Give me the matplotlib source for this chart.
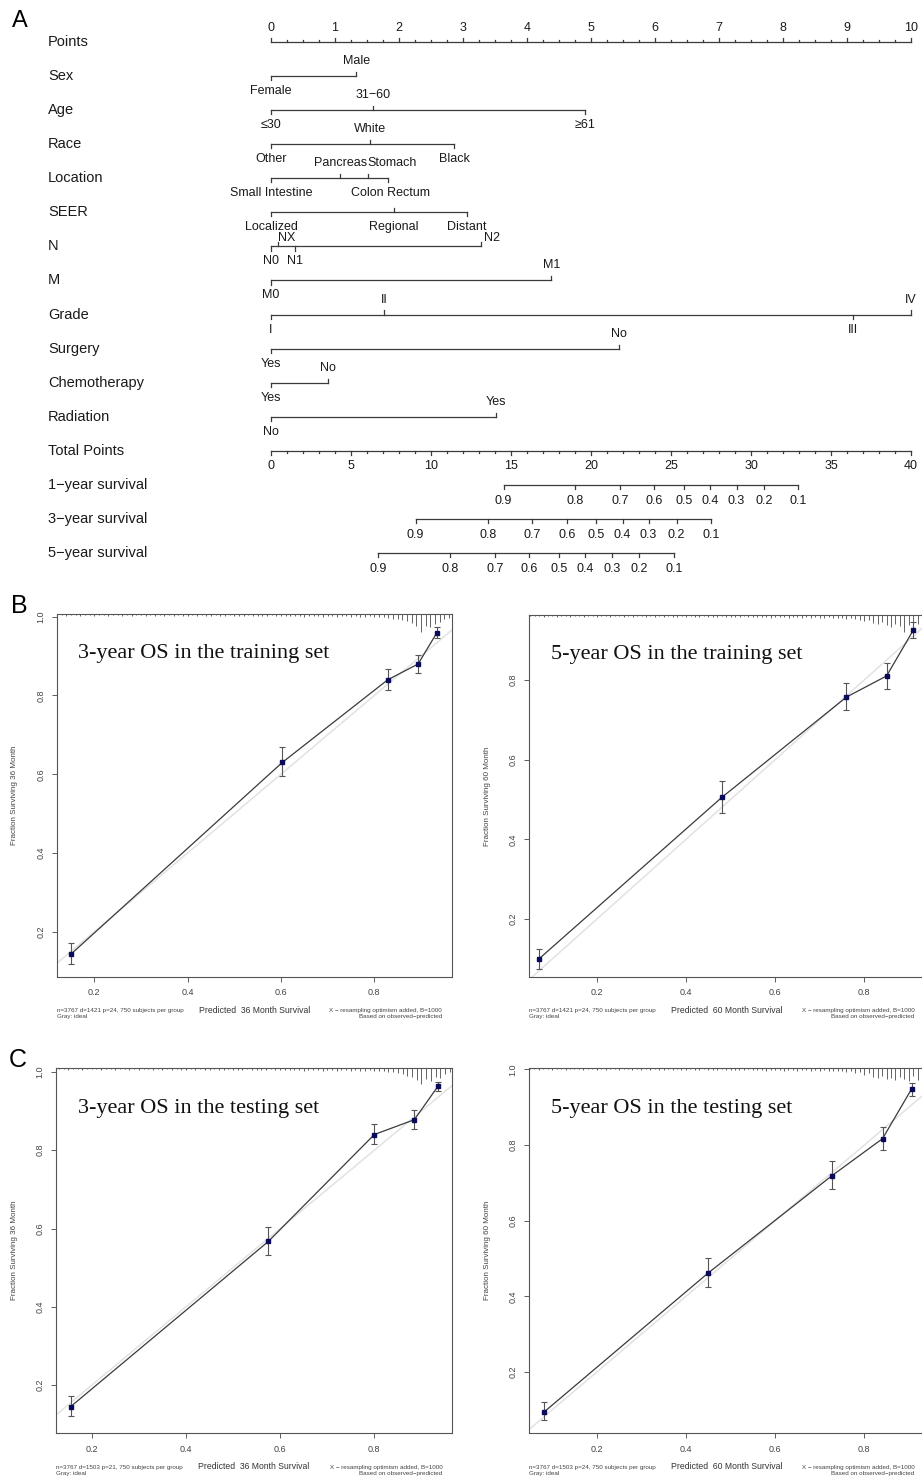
import numpy as np
import matplotlib
matplotlib.use("Agg")
import matplotlib.pyplot as plt

plt.rcParams['font.family'] = ['Liberation Sans', 'DejaVu Sans']

W, H = 922, 1482

# ---------------- nomogram data (points) ----------------
row_names = ["Points", "Sex", "Age", "Race", "Location", "SEER", "N", "M", "Grade",
             "Surgery", "Chemotherapy", "Radiation", "Total Points",
             "1\u2212year survival", "3\u2212year survival", "5\u2212year survival"]

sex_lab = ["Female", "Male"]
sex_pts = [0, 1.33]
age_lab = ["\u226430", "31\u221260", "\u226561"]
age_pts = [0, 1.60, 4.90]
race_lab = ["Other", "White", "Black"]
race_pts = [0, 1.55, 2.86]
loc_lab = ["Small Intestine", "Pancreas", "Stomach", "Colon Rectum"]
loc_pts = [0, 1.08, 1.51, 1.83]
seer_lab = ["Localized", "Regional", "Distant"]
seer_pts = [0, 1.92, 3.06]
n_lab = ["N0", "NX", "N1", "N2"]
n_pts = [0, 0.11, 0.38, 3.28]
m_lab = ["M0", "M1"]
m_pts = [0, 4.38]
grade_lab = ["I", "II", "III", "IV"]
grade_pts = [0, 1.77, 9.10, 10.0]
surg_lab = ["Yes", "No"]
surg_pts = [0, 5.44]
chemo_lab = ["Yes", "No"]
chemo_pts = [0, 0.89]
rad_lab = ["No", "Yes"]
rad_pts = [0, 3.52]

surv_lab = ["0.9", "0.8", "0.7", "0.6", "0.5", "0.4", "0.3", "0.2", "0.1"]
surv1_total = [14.54, 19.02, 21.83, 23.96, 25.79, 27.46, 29.10, 30.83, 32.96]
surv3_total = [9.04, 13.54, 16.33, 18.50, 20.33, 21.98, 23.60, 25.35, 27.50]
surv5_total = [6.71, 11.19, 14.02, 16.15, 17.98, 19.63, 21.29, 23.02, 25.17]

# label placement: +1 above the line, -1 below
sides = {
    "Sex": [-1, 1], "Age": [-1, 1, -1], "Race": [-1, 1, -1],
    "Location": [-1, 1, 1, -1], "SEER": [-1, -1, -1], "N": [-1, 1, -1, 1],
    "M": [-1, 1], "Grade": [-1, 1, -1, 1], "Surgery": [-1, 1],
    "Chemotherapy": [-1, 1], "Radiation": [-1, 1],
}
# tick direction where it differs from the label side
tick_dir = {("SEER", "Regional"): 1}
nudge = {("N", "NX"): (0.13, 0.2), ("N", "N2"): (0.17, 0.2),
         ("Location", "Stomach"): (0.38, 0), ("Location", "Colon Rectum"): (0.04, 0)}

cat_rows = [("Sex", sex_lab, sex_pts), ("Age", age_lab, age_pts), ("Race", race_lab, race_pts),
            ("Location", loc_lab, loc_pts), ("SEER", seer_lab, seer_pts), ("N", n_lab, n_pts),
            ("M", m_lab, m_pts), ("Grade", grade_lab, grade_pts), ("Surgery", surg_lab, surg_pts),
            ("Chemotherapy", chemo_lab, chemo_pts), ("Radiation", rad_lab, rad_pts)]

TOTAL_MAX = 40.0
POINTS_MAX = 10.0

# ---------------- calibration data ----------------
b1_pred = [0.150, 0.603, 0.829, 0.894, 0.934]
b1_obs = [0.143, 0.630, 0.840, 0.880, 0.959]
b1_lo = [0.118, 0.596, 0.813, 0.856, 0.945]
b1_hi = [0.172, 0.668, 0.867, 0.904, 0.973]

b2_pred = [0.070, 0.480, 0.760, 0.850, 0.910]
b2_obs = [0.100, 0.505, 0.757, 0.810, 0.925]
b2_lo = [0.075, 0.465, 0.725, 0.778, 0.905]
b2_hi = [0.125, 0.547, 0.792, 0.842, 0.945]

c1_pred = [0.155, 0.575, 0.800, 0.885, 0.935]
c1_obs = [0.145, 0.567, 0.840, 0.878, 0.963]
c1_lo = [0.120, 0.532, 0.815, 0.855, 0.952]
c1_hi = [0.172, 0.604, 0.866, 0.902, 0.975]

c2_pred = [0.0825, 0.449, 0.728, 0.841, 0.906]
c2_obs = [0.095, 0.461, 0.7195, 0.817, 0.948]
c2_lo = [0.073, 0.424, 0.685, 0.787, 0.930]
c2_hi = [0.121, 0.502, 0.757, 0.849, 0.965]

# spike histogram of predictions (heights in px), bins of 0.01
b1_rug_start = 0.12
b1_rug_h = [1, 1, 2, 1, 1, 2, 1, 1, 2, 1, 1, 2, 1, 1, 2, 1, 2, 1, 1, 2,
            1, 2, 1, 2, 1, 2, 1, 2, 2, 1, 2, 1, 2, 2, 1, 2, 2, 1, 2, 2,
            2, 1, 2, 2, 2, 2, 1, 2, 2, 2, 2, 2, 2, 3, 2, 2, 2, 3, 2, 2,
            3, 2, 2, 3, 2, 3, 3, 2, 3, 3,
            3, 4, 5, 5, 6, 7, 9, 12, 18, 12, 13, 10, 8, 5, 4]
c1_rug_start = 0.13
c1_rug_h = [1, 1, 2, 1, 1, 2, 1, 1, 1, 2, 1, 1, 2, 1, 1, 2, 1, 2, 1, 1,
            2, 1, 2, 1, 2, 1, 2, 2, 1, 2, 1, 2, 2, 1, 2, 2, 1, 2, 2, 2,
            1, 2, 2, 2, 2, 1, 2, 2, 2, 2, 2, 2, 3, 2, 2, 2, 3, 2, 2, 3,
            2, 2, 3, 2, 3, 3, 2, 3, 3,
            3, 4, 4, 5, 6, 8, 9, 12, 16, 11, 13, 9, 10, 6, 4]
b2_rug_start = 0.05
b2_rug_h = [1, 1, 1, 2, 1, 1, 2, 1, 1, 2, 1, 1, 2, 1, 1, 2, 1, 1, 2, 1,
            1, 2, 1, 2, 1, 1, 2, 1, 2, 1, 2, 1, 2, 2, 1, 2, 1, 2, 2, 1,
            2, 2, 2, 1, 2, 2, 2, 2, 1, 2, 2, 2, 2, 2, 3, 2, 2, 2, 3, 2,
            2, 3, 2, 3, 2, 3, 3, 2, 3, 3,
            3, 4, 3, 4, 5, 6, 5, 8, 9, 7, 10, 12, 9, 11, 17, 10, 12, 9, 11]
c2_rug_start = 0.05
c2_rug_h = [1, 1, 2, 1, 1, 2, 1, 1, 2, 1, 1, 1, 2, 1, 1, 2, 1, 2, 1, 1,
            2, 1, 1, 2, 1, 2, 1, 2, 1, 2, 2, 1, 2, 1, 2, 2, 1, 2, 2, 1,
            2, 2, 2, 1, 2, 2, 2, 2, 2, 1, 2, 2, 2, 3, 2, 2, 2, 3, 2, 2,
            3, 2, 2, 3, 2, 3, 2, 3, 3, 3,
            3, 4, 3, 5, 4, 7, 5, 9, 10, 8, 11, 10, 12, 9, 11, 13, 8, 12, 10]

fig = plt.figure(figsize=(W / 100, H / 100), dpi=100)
fig.patch.set_facecolor("white")

def fx(px):
    return px / W

def fy(py):
    return 1 - py / H

# ---------------- panel A : nomogram ----------------
NOM_H = 590.0
ROW0, ROW_STEP = 42.0, 34.07
PT_X0, PT_W = 271.0, 64.0
ax = fig.add_axes([0, fy(NOM_H), 1, NOM_H / H])
ax.set_xlim(-PT_X0 / PT_W, (W - PT_X0) / PT_W)
ax.set_ylim((NOM_H - ROW0) / ROW_STEP, -ROW0 / ROW_STEP)
ax.axis("off")

lc = "#3a3a3a"
tc = "#1a1a1a"
lw = 0.9
tl = 0.12     # tick length (rows)
lo_ = 0.44    # label offset (rows)
lab_x = (48 - PT_X0) / PT_W

for i, name in enumerate(row_names):
    ax.text(lab_x, i, name, fontsize=10.5, va="center", ha="left", color=tc)

# Points axis
ax.plot([0, POINTS_MAX], [0, 0], color=lc, lw=lw)
for v in np.arange(0, POINTS_MAX + 0.001, 0.25):
    major = abs(v - round(v)) < 1e-6
    ax.plot([v, v], [0, -(tl if major else tl * 0.55)], color=lc, lw=lw)
    if major:
        ax.text(v, -0.42, "%d" % v, fontsize=9, ha="center", va="center", color=tc)

# categorical rows
for name, labs, pts in cat_rows:
    i = row_names.index(name)
    ax.plot([min(pts), max(pts)], [i, i], color=lc, lw=lw)
    for lab, p, s in zip(labs, pts, sides[name]):
        td = tick_dir.get((name, lab), s)
        ax.plot([p, p], [i, i - td * tl], color=lc, lw=lw)
        dx, dy = nudge.get((name, lab), (0, 0))
        ax.text(p + dx, i - s * lo_ + dy, lab, fontsize=9, ha="center", va="center", color=tc)

# Total points axis
i = row_names.index("Total Points")
scale = POINTS_MAX / TOTAL_MAX
ax.plot([0, TOTAL_MAX * scale], [i, i], color=lc, lw=lw)
for v in np.arange(0, TOTAL_MAX + 0.001, 1):
    major = v % 5 == 0
    ax.plot([v * scale, v * scale], [i, i + (tl if major else tl * 0.55)], color=lc, lw=lw)
    if major:
        ax.text(v * scale, i + lo_, "%d" % v, fontsize=9, ha="center", va="center", color=tc)

# survival scales
for name, tot in [("1\u2212year survival", surv1_total), ("3\u2212year survival", surv3_total),
                  ("5\u2212year survival", surv5_total)]:
    i = row_names.index(name)
    xs = [t * scale for t in tot]
    ax.plot([xs[0], xs[-1]], [i, i], color=lc, lw=lw)
    for x, lab in zip(xs, surv_lab):
        ax.plot([x, x], [i, i + tl], color=lc, lw=lw)
        ax.text(x, i + lo_ + 0.03, lab, fontsize=9, ha="center", va="center", color=tc)

fig.text(fx(20), fy(21), "A", fontsize=17, ha="center", va="center")
fig.text(fx(19), fy(606), "B", fontsize=18, ha="center", va="center")
fig.text(fx(18), fy(1060), "C", fontsize=18, ha="center", va="center")

# ---------------- calibration panels ----------------
def calib(rect, xlim, ylim, yticks, pred, obs, lo, hi, rug_start, rug_h, title, months,
          note, ylab_x):
    l, t, r, b = rect
    a = fig.add_axes([fx(l), fy(b), fx(r) - fx(l), (b - t) / H])
    a.set_xlim(*xlim)
    a.set_ylim(*ylim)
    a.plot([0, 1], [0, 1], color="#e2e2e2", lw=1.1, zorder=1)
    a.plot(pred, obs, color="#3a3a3a", lw=0.9, zorder=2)
    err = [np.array(obs) - np.array(lo), np.array(hi) - np.array(obs)]
    a.errorbar(pred, obs, yerr=err, fmt="none", ecolor="#555555", elinewidth=0.8,
               capsize=2.2, capthick=0.8, zorder=3)
    a.plot(pred, obs, "s", color="#0a0a5a", ms=3.2, zorder=4)
    # spike histogram along the top
    px_unit = (ylim[1] - ylim[0]) / (b - t)
    rx = rug_start + 0.01 * np.arange(len(rug_h))
    a.vlines(rx, ylim[1] - np.array(rug_h) * px_unit, ylim[1], color="#4a4a4a", lw=0.6)
    for s in a.spines.values():
        s.set_color("#555555")
        s.set_linewidth(0.8)
    a.set_xticks([0.2, 0.4, 0.6, 0.8])
    a.set_xticklabels(["0.2", "0.4", "0.6", "0.8"])
    a.set_yticks(yticks)
    a.set_yticklabels(["%.1f" % v for v in yticks], rotation=90, va="center")
    a.tick_params(direction="out", length=3.6, width=0.6, labelsize=6.5,
                  colors="#444444", pad=4.5)
    a.text(0.055, 0.89, title, transform=a.transAxes, fontsize=16,
           family="Liberation Serif", ha="left", va="center", color="#111111")
    a.set_ylabel("Fraction Surviving %d Month" % months, fontsize=5.8, color="#444444")
    a.yaxis.set_label_coords((ylab_x - l) / (r - l), 0.5)
    fig.text(fx(l), fy(b + 37), note + "\nGray: ideal", fontsize=4.5, ha="left",
             va="center", color="#444444", linespacing=1.2)
    fig.text(fx((l + r) / 2), fy(b + 33.5), "Predicted  %d Month Survival" % months,
             fontsize=6.2, ha="center", va="center", color="#333333")
    fig.text(fx(r - 9.5), fy(b + 37),
             "X \u2212 resampling optimism added, B=1000\nBased on observed\u2212predicted",
             fontsize=4.5, ha="right", va="center", color="#444444", linespacing=1.2)
    return a

calib((56.7, 614, 451.7, 976.7), (0.1194, 0.966), (0.0857, 1.007), [0.2, 0.4, 0.6, 0.8, 1.0],
      b1_pred, b1_obs, b1_lo, b1_hi, b1_rug_start, b1_rug_h,
      "3-year OS in the training set", 36,
      "n=3767 d=1421 p=24, 750 subjects per group", 18.5)
calib((529.3, 615, 924, 976.7), (0.048, 0.934), (0.055, 0.963), [0.2, 0.4, 0.6, 0.8],
      b2_pred, b2_obs, b2_lo, b2_hi, b2_rug_start, b2_rug_h,
      "5-year OS in the training set", 60,
      "n=3767 d=1421 p=24, 750 subjects per group", 491)
calib((56, 1068, 452, 1433.3), (0.124, 0.965), (0.077, 1.01), [0.2, 0.4, 0.6, 0.8, 1.0],
      c1_pred, c1_obs, c1_lo, c1_hi, c1_rug_start, c1_rug_h,
      "3-year OS in the testing set", 36,
      "n=3767 d=1503 p=21, 750 subjects per group", 18.5)
calib((529, 1068.3, 924, 1433.3), (0.048, 0.934), (0.038, 1.003), [0.2, 0.4, 0.6, 0.8, 1.0],
      c2_pred, c2_obs, c2_lo, c2_hi, c2_rug_start, c2_rug_h,
      "5-year OS in the testing set", 60,
      "n=3767 d=1503 p=24, 750 subjects per group", 491)

fig.savefig("out.png", dpi=100, facecolor="white")
